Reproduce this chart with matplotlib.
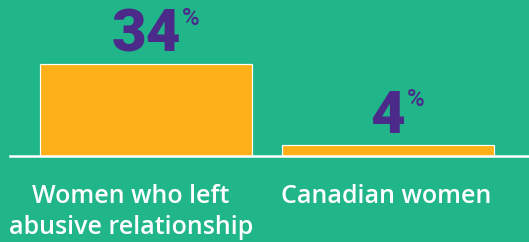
import matplotlib
matplotlib.use('Agg')
from matplotlib import pyplot as plt

# data
categories = ['Women who left\nabusive relationship', 'Canadian women']
values = [34, 4]
value_labels = ['34', '4']

# colours
bg = '#20b68a'
bar_color = '#fdb017'
purple = '#4b2a8a'

plt.rcParams['font.family'] = ['Roboto', 'DejaVu Sans']

fig = plt.figure(figsize=(529 / 72, 242 / 72), dpi=72, facecolor=bg)
ax = fig.add_axes([0, 0, 1, 1])
ax.set_facecolor(bg)

x = list(range(len(values)))
ax.bar(x, values, width=0.876, color=bar_color, edgecolor='white', linewidth=1.2, zorder=2)
ax.axhline(0, xmin=10 / 529, xmax=1, color='white', linewidth=2.5, zorder=3)

ax.set_xlim(-146 / 242, 383 / 242)
ax.set_ylim(-86 / 2.706, 156 / 2.706)
ax.axis('off')

# value labels with small superscript %
for i, (v, s) in enumerate(zip(values, value_labels)):
    t = ax.annotate(s, xy=(i, v), xytext=(0, 12), textcoords='offset points',
                    ha='center', va='baseline', fontsize=60, fontweight='black',
                    color=purple)
    ax.annotate('%', xy=(1, 1), xycoords=t, xytext=(1, 1), textcoords='offset points',
                ha='left', va='top', fontsize=24, fontweight='medium', color=purple)

# category labels under the bars
label_shift = [-15, -2]
for i, lab in enumerate(categories):
    ax.annotate(lab, xy=(i, 0), xytext=(label_shift[i], -28), textcoords='offset points',
                ha='center', va='top', fontsize=25, fontweight='semibold', color='white',
                family=['Open Sans', 'DejaVu Sans'], linespacing=1.3)

plt.savefig('out.png', dpi=72, facecolor=bg)
